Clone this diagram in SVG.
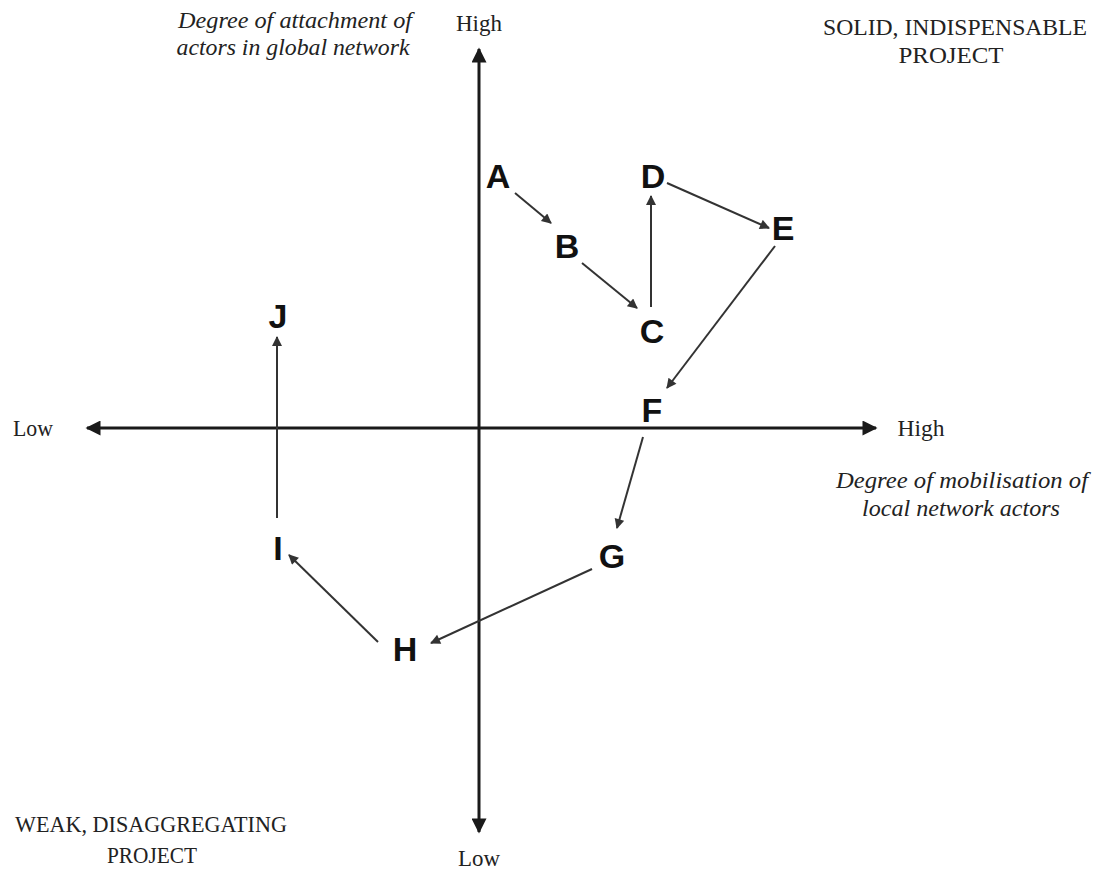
<svg xmlns="http://www.w3.org/2000/svg" width="1098" height="870" viewBox="0 0 1098 870">
<style>
.ax{stroke:#1a1a1a;stroke-width:3;fill:none}
.cn{stroke:#333;stroke-width:2;fill:none}
.lbl{font-family:"Liberation Sans",Arial,sans-serif;font-weight:bold;font-size:34px;fill:#111;text-anchor:middle}
.t{font-family:"Liberation Serif","Times New Roman",serif;font-size:23px;fill:#222;text-anchor:middle}
.it{font-family:"Liberation Serif","Times New Roman",serif;font-style:italic;font-size:24px;fill:#222;text-anchor:middle}
</style>
<defs>
<marker id="ah" viewBox="0 0 10 10" refX="9" refY="5" markerWidth="6" markerHeight="5" orient="auto" markerUnits="strokeWidth">
<path d="M0,0 L10,5 L0,10 z" fill="#333"/>
</marker>
<marker id="axh" viewBox="0 0 10 10" refX="9" refY="5" markerWidth="5.5" markerHeight="5" orient="auto" markerUnits="strokeWidth">
<path d="M0,0 L10,5 L0,10 z" fill="#1a1a1a"/>
</marker>
</defs>
<rect width="1098" height="870" fill="#fff"/>
<g id="axes">
<line class="ax" x1="479" y1="428" x2="479" y2="49" marker-end="url(#axh)"/>
<line class="ax" x1="479" y1="428" x2="479" y2="832" marker-end="url(#axh)"/>
<line class="ax" x1="479" y1="428" x2="87" y2="428" marker-end="url(#axh)"/>
<line class="ax" x1="479" y1="428" x2="876" y2="428" marker-end="url(#axh)"/>
</g>
<g id="axis-labels">
<text class="t" x="479" y="31" textLength="46" lengthAdjust="spacingAndGlyphs">High</text>
<text class="t" x="479" y="866" textLength="42" lengthAdjust="spacingAndGlyphs">Low</text>
<text class="t" x="33" y="436" textLength="40" lengthAdjust="spacingAndGlyphs">Low</text>
<text class="t" x="921" y="436" textLength="47" lengthAdjust="spacingAndGlyphs">High</text>
<text class="it" x="295" y="28" textLength="234" lengthAdjust="spacingAndGlyphs">Degree of attachment of</text>
<text class="it" x="293" y="55" textLength="233" lengthAdjust="spacingAndGlyphs">actors in global network</text>
<text class="it" x="962" y="488" textLength="252" lengthAdjust="spacingAndGlyphs">Degree of mobilisation of</text>
<text class="it" x="961" y="516" textLength="198" lengthAdjust="spacingAndGlyphs">local network actors</text>
<text class="t" x="955" y="35" textLength="264" lengthAdjust="spacingAndGlyphs">SOLID, INDISPENSABLE</text>
<text class="t" x="951" y="63" textLength="105" lengthAdjust="spacingAndGlyphs">PROJECT</text>
<text class="t" x="151" y="832" textLength="272" lengthAdjust="spacingAndGlyphs">WEAK, DISAGGREGATING</text>
<text class="t" x="152" y="863" textLength="90" lengthAdjust="spacingAndGlyphs">PROJECT</text>
</g>
<g id="connectors">
<line class="cn" x1="515" y1="193" x2="551" y2="223" marker-end="url(#ah)"/>
<line class="cn" x1="582" y1="263" x2="637" y2="308" marker-end="url(#ah)"/>
<line class="cn" x1="651" y1="307" x2="651" y2="196" marker-end="url(#ah)"/>
<line class="cn" x1="667" y1="183" x2="769" y2="228" marker-end="url(#ah)"/>
<line class="cn" x1="775" y1="246" x2="667" y2="388" marker-end="url(#ah)"/>
<line class="cn" x1="643" y1="437" x2="617" y2="528" marker-end="url(#ah)"/>
<line class="cn" x1="592" y1="569" x2="431" y2="643" marker-end="url(#ah)"/>
<line class="cn" x1="378" y1="642" x2="289" y2="555" marker-end="url(#ah)"/>
<line class="cn" x1="277" y1="518" x2="277" y2="337" marker-end="url(#ah)"/>
</g>
<g id="A"><text class="lbl" x="498" y="188">A</text></g>
<g id="B"><text class="lbl" x="567" y="258">B</text></g>
<g id="C"><text class="lbl" x="652" y="343">C</text></g>
<g id="D"><text class="lbl" x="653" y="188">D</text></g>
<g id="E"><text class="lbl" x="783" y="240">E</text></g>
<g id="F"><text class="lbl" x="652" y="422">F</text></g>
<g id="G"><text class="lbl" x="612" y="568">G</text></g>
<g id="H"><text class="lbl" x="405" y="661">H</text></g>
<g id="I"><text class="lbl" x="278" y="560">I</text></g>
<g id="J"><text class="lbl" x="278" y="328">J</text></g>
</svg>
